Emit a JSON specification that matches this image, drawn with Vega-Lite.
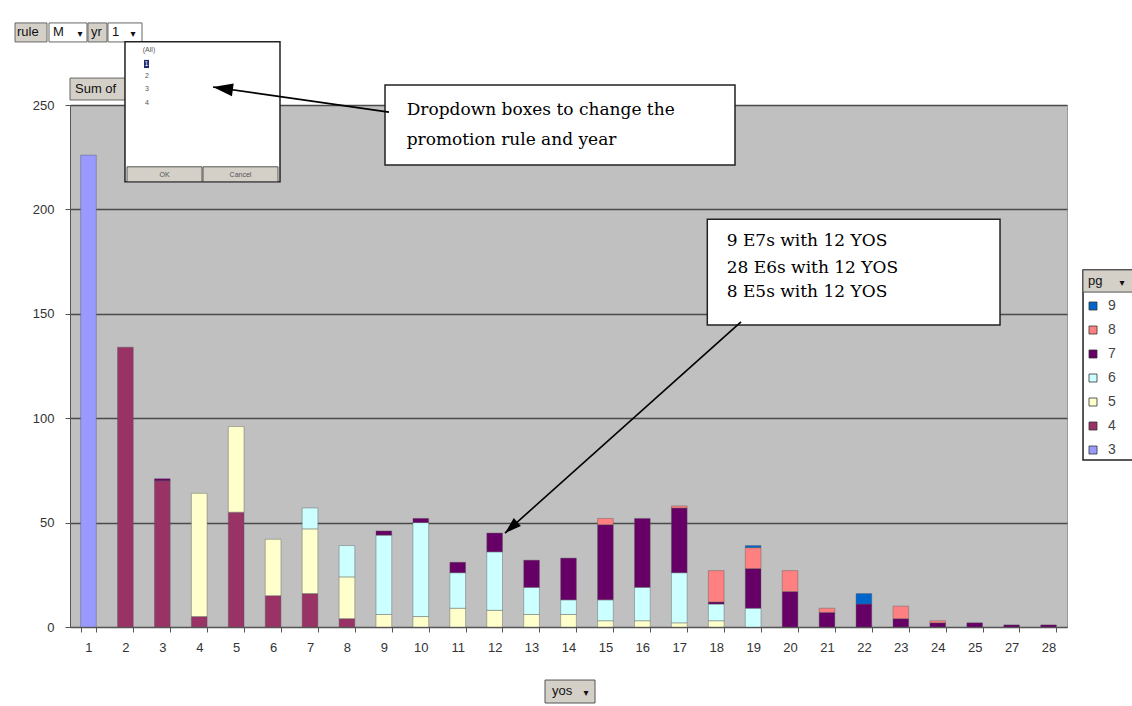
{
  "$schema": "https://vega.github.io/schema/vega-lite/v6.json",
  "width": 997,
  "height": 522,
  "autosize": {"type": "none"},
  "padding": {"left": 70, "top": 105, "right": 65, "bottom": 79},
  "background": "white",
  "config": {
    "view": {"fill": "#C0C0C0", "stroke": "#9a9a9a", "strokeWidth": 1},
    "axis": {"labelFont": "Liberation Sans", "labelFontSize": 13, "labelColor": "#333333", "tickColor": "#555555", "domainColor": "#555555", "tickSize": 5}
  },
  "datasets": {
    "bars": [
      {"yos": "1", "pg": "3", "count": 226},
      {"yos": "2", "pg": "4", "count": 134},
      {"yos": "3", "pg": "4", "count": 70},
      {"yos": "3", "pg": "7", "count": 1},
      {"yos": "4", "pg": "4", "count": 5},
      {"yos": "4", "pg": "5", "count": 59},
      {"yos": "5", "pg": "4", "count": 55},
      {"yos": "5", "pg": "5", "count": 41},
      {"yos": "6", "pg": "4", "count": 15},
      {"yos": "6", "pg": "5", "count": 27},
      {"yos": "7", "pg": "4", "count": 16},
      {"yos": "7", "pg": "5", "count": 31},
      {"yos": "7", "pg": "6", "count": 10},
      {"yos": "8", "pg": "4", "count": 4},
      {"yos": "8", "pg": "5", "count": 20},
      {"yos": "8", "pg": "6", "count": 15},
      {"yos": "9", "pg": "5", "count": 6},
      {"yos": "9", "pg": "6", "count": 38},
      {"yos": "9", "pg": "7", "count": 2},
      {"yos": "10", "pg": "5", "count": 5},
      {"yos": "10", "pg": "6", "count": 45},
      {"yos": "10", "pg": "7", "count": 2},
      {"yos": "11", "pg": "5", "count": 9},
      {"yos": "11", "pg": "6", "count": 17},
      {"yos": "11", "pg": "7", "count": 5},
      {"yos": "12", "pg": "5", "count": 8},
      {"yos": "12", "pg": "6", "count": 28},
      {"yos": "12", "pg": "7", "count": 9},
      {"yos": "13", "pg": "5", "count": 6},
      {"yos": "13", "pg": "6", "count": 13},
      {"yos": "13", "pg": "7", "count": 13},
      {"yos": "14", "pg": "5", "count": 6},
      {"yos": "14", "pg": "6", "count": 7},
      {"yos": "14", "pg": "7", "count": 20},
      {"yos": "15", "pg": "5", "count": 3},
      {"yos": "15", "pg": "6", "count": 10},
      {"yos": "15", "pg": "7", "count": 36},
      {"yos": "15", "pg": "8", "count": 3},
      {"yos": "16", "pg": "5", "count": 3},
      {"yos": "16", "pg": "6", "count": 16},
      {"yos": "16", "pg": "7", "count": 33},
      {"yos": "17", "pg": "5", "count": 2},
      {"yos": "17", "pg": "6", "count": 24},
      {"yos": "17", "pg": "7", "count": 31},
      {"yos": "17", "pg": "8", "count": 1},
      {"yos": "18", "pg": "5", "count": 3},
      {"yos": "18", "pg": "6", "count": 8},
      {"yos": "18", "pg": "7", "count": 1},
      {"yos": "18", "pg": "8", "count": 15},
      {"yos": "19", "pg": "6", "count": 9},
      {"yos": "19", "pg": "7", "count": 19},
      {"yos": "19", "pg": "8", "count": 10},
      {"yos": "19", "pg": "9", "count": 1},
      {"yos": "20", "pg": "7", "count": 17},
      {"yos": "20", "pg": "8", "count": 10},
      {"yos": "21", "pg": "7", "count": 7},
      {"yos": "21", "pg": "8", "count": 2},
      {"yos": "22", "pg": "7", "count": 11},
      {"yos": "22", "pg": "9", "count": 5},
      {"yos": "23", "pg": "7", "count": 4},
      {"yos": "23", "pg": "8", "count": 6},
      {"yos": "24", "pg": "7", "count": 2},
      {"yos": "24", "pg": "8", "count": 1},
      {"yos": "25", "pg": "7", "count": 2},
      {"yos": "27", "pg": "7", "count": 1},
      {"yos": "28", "pg": "7", "count": 1}
    ],
    "btnUnder": [
      {"x": -0.989, "x2": -0.123, "y": 289.3, "y2": 280.2},
      {"x": 0.987, "x2": 1.502, "y": 289.3, "y2": 280.2},
      {"x": 0.5, "x2": 2.3, "y": 262.9, "y2": 252.4}
    ],
    "undertext": [
      {"x": 0.635, "y": 257.7, "label": "Sum of"}
    ],
    "fields": [
      {"x": -0.069, "x2": 0.960, "y": 289.3, "y2": 280.2},
      {"x": 1.529, "x2": 2.450, "y": 289.3, "y2": 280.2}
    ],
    "boxes": [
      {"x": 1.989, "x2": 6.187, "y": 280.3, "y2": 213.3},
      {"x": 9.031, "x2": 18.509, "y": 259.6, "y2": 221.3},
      {"x": 17.759, "x2": 25.686, "y": 195.3, "y2": 144.6},
      {"x": 27.934, "x2": 29.4, "y": 171.0, "y2": 80.0}
    ],
    "btnOver": [
      {"x": 2.044, "x2": 4.075, "y": 220.4, "y2": 213.3},
      {"x": 4.102, "x2": 6.133, "y": 220.4, "y2": 213.3},
      {"x": 13.364, "x2": 14.718, "y": -25.4, "y2": -36.4},
      {"x": 27.934, "x2": 29.4, "y": 171.0, "y2": 160.4}
    ],
    "sel": [
      {"x": 2.504, "x2": 2.639, "y": 271.6, "y2": 267.7, "label": "1", "tx": 2.571, "ty": 269.6}
    ],
    "arrows": [
      {"id": 1, "x": 9.139, "y": 246.6, "x2": 4.373, "y2": 258.6},
      {"id": 2, "x": 18.672, "y": 146.1, "x2": 12.280, "y2": 45.0}
    ],
    "notes": [
      {"x": 9.618, "y": 247.6, "label": "Dropdown boxes to change the"},
      {"x": 9.618, "y": 233.2, "label": "promotion rule and year"},
      {"x": 18.284, "y": 185.0, "label": "9 E7s with 12 YOS"},
      {"x": 18.284, "y": 171.8, "label": "28 E6s with 12 YOS"},
      {"x": 18.284, "y": 160.6, "label": "8 E5s with 12 YOS"}
    ],
    "uitext": [
      {"x": -0.935, "y": 285.0, "label": "rule"},
      {"x": 0.040, "y": 285.0, "label": "M"},
      {"x": 1.069, "y": 285.0, "label": "yr"},
      {"x": 1.637, "y": 285.0, "label": "1"},
      {"x": 13.553, "y": -30.7, "label": "yos"},
      {"x": 28.07, "y": 165.7, "label": "pg"}
    ],
    "drops": [
      {"x": 0.771, "y": 284.0, "label": "▾"},
      {"x": 2.206, "y": 284.0, "label": "▾"},
      {"x": 14.474, "y": -31.7, "label": "▾"},
      {"x": 28.99, "y": 164.7, "label": "▾"}
    ],
    "smalltext": [
      {"x": 2.639, "y": 276.3, "label": "(All)"},
      {"x": 2.585, "y": 263.9, "label": "2"},
      {"x": 2.585, "y": 257.7, "label": "3"},
      {"x": 2.585, "y": 251.0, "label": "4"},
      {"x": 3.059, "y": 216.7, "label": "OK"},
      {"x": 5.117, "y": 216.7, "label": "Cancel"}
    ]
  },
  "layer": [
    {
      "data": {"name": "bars"},
      "mark": {"type": "bar", "stroke": "#555555", "strokeWidth": 0.5, "strokeOpacity": 0.8},
      "encoding": {
        "x": {
          "field": "yos", "type": "ordinal",
          "scale": {"domain": ["1","2","3","4","5","6","7","8","9","10","11","12","13","14","15","16","17","18","19","20","21","22","23","24","25","27","28"], "paddingInner": 0.575, "paddingOuter": 0.2875},
          "axis": {"title": null, "labelAngle": 0, "tickBand": "extent", "labelPadding": 9, "grid": false}
        },
        "y": {
          "field": "count", "type": "quantitative", "stack": "zero", "title": null,
          "scale": {"domain": [0, 250], "nice": false},
          "axis": {"title": null, "values": [0, 50, 100, 150, 200, 250], "grid": true, "gridColor": "#4a4a4a", "gridWidth": 1.5, "labelPadding": 11}
        },
        "color": {
          "field": "pg", "type": "nominal",
          "scale": {"domain": ["9","8","7","6","5","4","3"], "range": ["#0066CC","#FF8080","#660066","#CCFFFF","#FFFFCC","#993366","#9999FF"]},
          "legend": {"orient": "none", "legendX": 1016, "legendY": 194, "title": null, "symbolType": "square", "symbolSize": 64, "labelFont": "Liberation Sans", "labelFontSize": 14, "labelColor": "#444444", "rowPadding": 10, "labelOffset": 8, "padding": 0, "symbolStrokeColor": "#333333", "symbolStrokeWidth": 0.8}
        },
        "order": {"field": "pg", "type": "ordinal", "sort": "ascending"}
      }
    },
    {
      "layer": [
        {
          "data": {"name": "btnUnder"},
          "mark": {"type": "rect", "fill": "#D4D0C8", "stroke": "#666666", "strokeWidth": 1},
          "encoding": {
            "x": {"field": "x", "type": "quantitative", "scale": {"domain": [0.5, 27.5], "nice": false, "zero": false}, "axis": null},
            "x2": {"field": "x2"},
            "y": {"field": "y", "type": "quantitative", "scale": {"domain": [0, 250], "nice": false}, "title": null},
            "y2": {"field": "y2"}
          }
        },
        {
          "data": {"name": "undertext"},
          "mark": {"type": "text", "font": "Liberation Sans", "fontSize": 13, "color": "#111111", "align": "left", "baseline": "middle"},
          "encoding": {
            "x": {"field": "x", "type": "quantitative", "scale": {"domain": [0.5, 27.5], "nice": false, "zero": false}, "axis": null},
            "y": {"field": "y", "type": "quantitative", "scale": {"domain": [0, 250], "nice": false}, "title": null},
            "text": {"field": "label"}
          }
        },
        {
          "data": {"name": "fields"},
          "mark": {"type": "rect", "fill": "white", "stroke": "#666666", "strokeWidth": 1},
          "encoding": {
            "x": {"field": "x", "type": "quantitative", "scale": {"domain": [0.5, 27.5], "nice": false, "zero": false}, "axis": null},
            "x2": {"field": "x2"},
            "y": {"field": "y", "type": "quantitative", "scale": {"domain": [0, 250], "nice": false}, "title": null},
            "y2": {"field": "y2"}
          }
        },
        {
          "data": {"name": "boxes"},
          "mark": {"type": "rect", "fill": "white", "stroke": "#222222", "strokeWidth": 1.5},
          "encoding": {
            "x": {"field": "x", "type": "quantitative", "scale": {"domain": [0.5, 27.5], "nice": false, "zero": false}, "axis": null},
            "x2": {"field": "x2"},
            "y": {"field": "y", "type": "quantitative", "scale": {"domain": [0, 250], "nice": false}, "title": null},
            "y2": {"field": "y2"}
          }
        },
        {
          "data": {"name": "btnOver"},
          "mark": {"type": "rect", "fill": "#D4D0C8", "stroke": "#555555", "strokeWidth": 1},
          "encoding": {
            "x": {"field": "x", "type": "quantitative", "scale": {"domain": [0.5, 27.5], "nice": false, "zero": false}, "axis": null},
            "x2": {"field": "x2"},
            "y": {"field": "y", "type": "quantitative", "scale": {"domain": [0, 250], "nice": false}, "title": null},
            "y2": {"field": "y2"}
          }
        },
        {
          "data": {"name": "sel"},
          "mark": {"type": "rect", "fill": "#1F2A6B"},
          "encoding": {
            "x": {"field": "x", "type": "quantitative", "scale": {"domain": [0.5, 27.5], "nice": false, "zero": false}, "axis": null},
            "x2": {"field": "x2"},
            "y": {"field": "y", "type": "quantitative", "scale": {"domain": [0, 250], "nice": false}, "title": null},
            "y2": {"field": "y2"}
          }
        },
        {
          "data": {"name": "sel"},
          "mark": {"type": "text", "color": "white", "fontSize": 7, "font": "Liberation Sans", "align": "center", "baseline": "middle"},
          "encoding": {
            "x": {"field": "tx", "type": "quantitative", "scale": {"domain": [0.5, 27.5], "nice": false, "zero": false}, "axis": null},
            "y": {"field": "ty", "type": "quantitative", "scale": {"domain": [0, 250], "nice": false}, "title": null},
            "text": {"field": "label"}
          }
        },
        {
          "data": {"name": "arrows"},
          "mark": {"type": "rule", "color": "black", "strokeWidth": 1.6},
          "encoding": {
            "x": {"field": "x", "type": "quantitative", "scale": {"domain": [0.5, 27.5], "nice": false, "zero": false}, "axis": null},
            "x2": {"field": "x2"},
            "y": {"field": "y", "type": "quantitative", "scale": {"domain": [0, 250], "nice": false}, "title": null},
            "y2": {"field": "y2"}
          }
        },
        {
          "data": {"name": "arrows"},
          "transform": [{"filter": "datum.id == 1"}],
          "mark": {"type": "point", "shape": "M0,0L-0.32,1L0.32,1Z", "size": 1600, "filled": true, "color": "black", "opacity": 1, "angle": 278},
          "encoding": {
            "x": {"field": "x2", "type": "quantitative", "scale": {"domain": [0.5, 27.5], "nice": false, "zero": false}, "axis": null},
            "y": {"field": "y2", "type": "quantitative", "scale": {"domain": [0, 250], "nice": false}, "title": null}
          }
        },
        {
          "data": {"name": "arrows"},
          "transform": [{"filter": "datum.id == 2"}],
          "mark": {"type": "point", "shape": "M0,0L-0.32,1L0.32,1Z", "size": 1100, "filled": true, "color": "black", "opacity": 1, "angle": 228},
          "encoding": {
            "x": {"field": "x2", "type": "quantitative", "scale": {"domain": [0.5, 27.5], "nice": false, "zero": false}, "axis": null},
            "y": {"field": "y2", "type": "quantitative", "scale": {"domain": [0, 250], "nice": false}, "title": null}
          }
        },
        {
          "data": {"name": "notes"},
          "mark": {"type": "text", "font": "DejaVu Serif", "fontSize": 17, "color": "black", "align": "left", "baseline": "middle"},
          "encoding": {
            "x": {"field": "x", "type": "quantitative", "scale": {"domain": [0.5, 27.5], "nice": false, "zero": false}, "axis": null},
            "y": {"field": "y", "type": "quantitative", "scale": {"domain": [0, 250], "nice": false}, "title": null},
            "text": {"field": "label"}
          }
        },
        {
          "data": {"name": "uitext"},
          "mark": {"type": "text", "font": "Liberation Sans", "fontSize": 13, "color": "#111111", "align": "left", "baseline": "middle"},
          "encoding": {
            "x": {"field": "x", "type": "quantitative", "scale": {"domain": [0.5, 27.5], "nice": false, "zero": false}, "axis": null},
            "y": {"field": "y", "type": "quantitative", "scale": {"domain": [0, 250], "nice": false}, "title": null},
            "text": {"field": "label"}
          }
        },
        {
          "data": {"name": "drops"},
          "mark": {"type": "text", "font": "DejaVu Sans", "fontSize": 10, "color": "#111111", "align": "center", "baseline": "middle"},
          "encoding": {
            "x": {"field": "x", "type": "quantitative", "scale": {"domain": [0.5, 27.5], "nice": false, "zero": false}, "axis": null},
            "y": {"field": "y", "type": "quantitative", "scale": {"domain": [0, 250], "nice": false}, "title": null},
            "text": {"field": "label"}
          }
        },
        {
          "data": {"name": "smalltext"},
          "mark": {"type": "text", "font": "Liberation Sans", "fontSize": 7, "color": "#555555", "align": "center", "baseline": "middle"},
          "encoding": {
            "x": {"field": "x", "type": "quantitative", "scale": {"domain": [0.5, 27.5], "nice": false, "zero": false}, "axis": null},
            "y": {"field": "y", "type": "quantitative", "scale": {"domain": [0, 250], "nice": false}, "title": null},
            "text": {"field": "label"}
          }
        }
      ]
    }
  ],
  "resolve": {"scale": {"x": "independent"}}
}
